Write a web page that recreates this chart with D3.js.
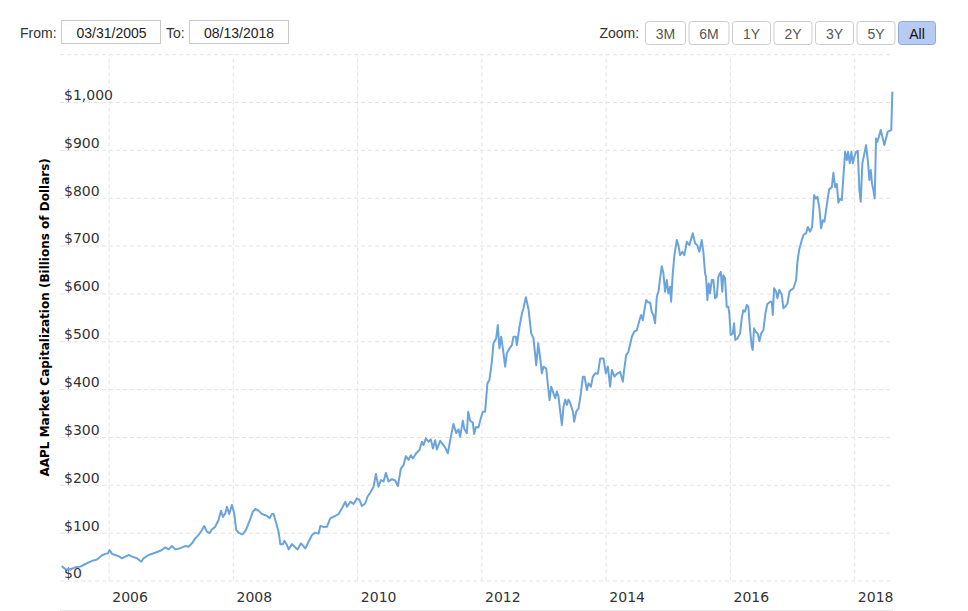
<!DOCTYPE html>
<html>
<head>
<meta charset="utf-8">
<script src="https://cdn.jsdelivr.net/npm/d3@7"></script>
<style>
  html, body { margin: 0; padding: 0; background: #fff; }
  svg { display: block; }
</style>
</head>
<body>
<svg id="chart" width="968" height="611"></svg>
<script>
// ---------------- DATA ----------------
const fromDate = "03/31/2005";
const toDate = "08/13/2018";
const zoomButtons = ["3M", "6M", "1Y", "2Y", "3Y", "5Y", "All"];
const activeZoom = "All";
const yAxisTitle = "AAPL Market Capitalization (Billions of Dollars)";
const yTickValues = [0, 100, 200, 300, 400, 500, 600, 700, 800, 900, 1000, 1100];
const xTickYears = [2006, 2008, 2010, 2012, 2014, 2016, 2018];

// time as decimal years
const yearsFrac = [
  2005.244, 2005.303, 2005.384, 2005.464, 2005.545, 2005.625, 2005.733, 2005.813, 2005.894, 2005.947, 2005.990,
  2006.016, 2006.055, 2006.108, 2006.161, 2006.216, 2006.269, 2006.322, 2006.377, 2006.457, 2006.526, 2006.563,
  2006.644, 2006.751, 2006.859, 2006.912, 2006.965,
  2007.020, 2007.073, 2007.154, 2007.234, 2007.287, 2007.342, 2007.395, 2007.448, 2007.503, 2007.540, 2007.583,
  2007.625, 2007.664, 2007.717, 2007.770, 2007.809, 2007.841, 2007.878, 2007.905, 2007.942, 2007.986,
  2008.023, 2008.055, 2008.103, 2008.156, 2008.211, 2008.264, 2008.323, 2008.360, 2008.414, 2008.468, 2008.549,
  2008.591, 2008.629, 2008.655, 2008.698, 2008.735, 2008.763, 2008.806, 2008.827, 2008.870, 2008.896, 2008.951,
  2009.004, 2009.041, 2009.096, 2009.165, 2009.218, 2009.273, 2009.326, 2009.379, 2009.406, 2009.459, 2009.514,
  2009.567, 2009.648, 2009.701, 2009.755, 2009.809, 2009.836, 2009.889, 2009.942, 2009.997,
  2010.039, 2010.077, 2010.130, 2010.167, 2010.211, 2010.264, 2010.302, 2010.344, 2010.383, 2010.425, 2010.463,
  2010.505, 2010.560, 2010.613, 2010.656, 2010.705, 2010.747, 2010.785, 2010.827, 2010.866, 2010.898, 2010.951,
  2011.004, 2011.043, 2011.068, 2011.107, 2011.149, 2011.187, 2011.220, 2011.257, 2011.284, 2011.337, 2011.390,
  2011.418, 2011.461, 2011.509, 2011.551, 2011.595, 2011.632, 2011.659, 2011.702, 2011.728, 2011.767, 2011.788,
  2011.820, 2011.863, 2011.884, 2011.912, 2011.953, 2011.992,
  2012.024, 2012.061, 2012.098, 2012.130, 2012.169, 2012.195, 2012.238, 2012.265, 2012.291, 2012.319, 2012.356,
  2012.383, 2012.410, 2012.452, 2012.491, 2012.516, 2012.555, 2012.571, 2012.613, 2012.652, 2012.677, 2012.716,
  2012.758, 2012.801, 2012.838, 2012.882, 2012.914, 2012.946, 2012.973, 2012.999,
  2013.043, 2013.070, 2013.096, 2013.123, 2013.160, 2013.187, 2013.215, 2013.241, 2013.268, 2013.295, 2013.321,
  2013.348, 2013.376, 2013.401, 2013.429, 2013.472, 2013.493, 2013.525, 2013.562, 2013.601, 2013.633, 2013.659,
  2013.698, 2013.723, 2013.762, 2013.794, 2013.831, 2013.874, 2013.912, 2013.965,
  2014.003, 2014.035, 2014.072, 2014.100, 2014.142, 2014.180, 2014.233, 2014.277, 2014.298, 2014.330, 2014.367,
  2014.422, 2014.459, 2014.502, 2014.544, 2014.571, 2014.599, 2014.624, 2014.652, 2014.689, 2014.716, 2014.743,
  2014.769, 2014.796, 2014.824, 2014.850, 2014.877, 2014.904, 2014.930, 2014.957, 2014.985,
  2015.010, 2015.038, 2015.054, 2015.081, 2015.107, 2015.146, 2015.171, 2015.199, 2015.236, 2015.268, 2015.307,
  2015.348, 2015.403, 2015.440, 2015.477, 2015.509, 2015.548, 2015.574, 2015.601, 2015.617, 2015.638, 2015.660,
  2015.681, 2015.709, 2015.735, 2015.762, 2015.789, 2015.815, 2015.854, 2015.879, 2015.895, 2015.923, 2015.950,
  2015.976, 2015.992,
  2016.014, 2016.047, 2016.068, 2016.088, 2016.121, 2016.164, 2016.191, 2016.217, 2016.245, 2016.272, 2016.298,
  2016.325, 2016.352, 2016.368, 2016.389, 2016.417, 2016.449, 2016.475, 2016.502, 2016.539, 2016.571, 2016.603,
  2016.647, 2016.674, 2016.690, 2016.711, 2016.743, 2016.764, 2016.796, 2016.835, 2016.861, 2016.888, 2016.925,
  2016.957, 2016.985,
  2017.022, 2017.065, 2017.086, 2017.113, 2017.157, 2017.183, 2017.226, 2017.253, 2017.290, 2017.323, 2017.355,
  2017.382, 2017.408, 2017.440, 2017.467, 2017.495, 2017.521, 2017.559, 2017.596, 2017.640, 2017.665, 2017.693,
  2017.720, 2017.746, 2017.773, 2017.801, 2017.826, 2017.854, 2017.881, 2017.902, 2017.929, 2017.955, 2017.978,
  2018.003, 2018.031, 2018.058, 2018.084, 2018.106, 2018.132, 2018.159, 2018.191, 2018.219, 2018.245, 2018.267,
  2018.288, 2018.309, 2018.331, 2018.352, 2018.373, 2018.401, 2018.428, 2018.460, 2018.486, 2018.513, 2018.541,
  2018.598, 2018.614
];

// market cap, billions of dollars
const marketCap = [
  30, 24, 23.5, 27.5, 29, 34.5, 41, 44, 52.7, 55.7, 57,
  63.7, 55.7, 53.3, 51, 46.4, 50, 53.3, 50, 46.4, 39.3, 46.4,
  53.3, 58, 63.7, 69.3, 65,
  72, 65, 67.5, 72, 70.5, 77.7, 88, 95, 105.5, 114, 102,
  99, 106.5, 112.5, 126.4, 146, 133, 140, 154, 139, 158,
  140, 105.5, 99, 96.5, 105.5, 123, 144, 149.4, 146, 139, 135,
  130, 139, 139, 119.5, 102, 76, 76, 83, 74, 65, 76,
  69, 65, 77.7, 67, 81, 95, 100, 98, 114, 112, 112.5,
  130, 135, 139, 151, 164.7, 154, 164.7, 160, 171.8,
  168, 155.7, 161, 175, 183.5, 196, 222.6, 196, 210, 207, 225,
  207, 212, 209, 197.5, 234.5, 241, 260, 252, 262, 255, 266,
  272.7, 290, 283, 297, 290, 295, 276, 293, 274, 292, 283,
  278, 266, 300.5, 327, 308, 316, 300.5, 334, 316, 308, 352.8,
  334, 330, 306, 321, 320, 339,
  352.8, 352.8, 412, 419, 457, 495.7, 506, 534, 485, 509.5, 475,
  447, 475, 485, 492, 509.5, 509.5, 492, 530, 558, 569, 592,
  567, 516.6, 506, 450, 495.7, 464, 433, 447,
  443, 408.6, 377, 405, 391, 381, 395, 384, 352.8, 325, 363,
  378, 367, 378, 371, 352.8, 332, 352.8, 359, 391, 426, 426,
  398, 412, 405, 426, 433, 432, 464, 464,
  433, 447, 405, 440, 426, 432, 436, 415.5, 440, 471, 478,
  509.5, 520, 523, 544, 555, 544, 565, 586, 581, 581, 561,
  555, 537.5, 593, 603.5, 631.5, 657, 642, 603.5, 628,
  600, 614, 582.6, 642, 680, 711.6, 701, 680, 687, 680, 708,
  701, 725.6, 704.7, 700, 687, 711.6, 686, 642, 635, 586, 621,
  600, 628, 628, 590, 593, 635, 645, 603.6, 638, 631.5, 572,
  572, 558,
  513, 516, 537.5, 502.6, 506, 516, 548, 565, 562, 575.8, 572,
  523.5, 488.6, 482, 527, 520, 516, 500, 516, 523.5, 558, 578,
  582.6, 582.6, 555, 610.7, 604, 590, 607.5, 597, 569, 572, 579,
  604, 607.5,
  610.7, 628, 666, 690.7, 711.6, 722, 726, 739, 729, 739, 805.6,
  798, 802, 778, 736, 753, 750, 784.7, 817.5, 822, 852, 822,
  829, 789.6, 798, 795, 844, 896, 878.8, 896, 872, 896, 872,
  885.7, 896, 898, 816, 791.6, 872, 889, 910, 878.8, 837, 858,
  829, 816, 798.8, 924, 917, 929, 941.5, 924, 910, 924, 938,
  941.5, 1021.5
];

// ---------------- HELPERS ----------------
function decimalYearToDate(t) {
  const y = Math.floor(t);
  const start = Date.UTC(y, 0, 1), end = Date.UTC(y + 1, 0, 1);
  return new Date(start + (t - y) * (end - start));
}
const series = yearsFrac.map((t, i) => ({ date: decimalYearToDate(t), value: marketCap[i] }));

// ---------------- LAYOUT ----------------
const svg = d3.select("#chart");
const plotLeft = 60, plotRight = 893;
const yTop = 54.2, yBottom = 580.5;
const gridColor = "#e3e3e3";
const lineColor = "#6ba4dc";
const axisFont = "'DejaVu Sans', Verdana, sans-serif";
const uiFont = "'Liberation Sans', Arial, sans-serif";

const x = d3.scaleUtc()
  .domain(d3.extent(series, d => d.date))
  .range([61.7, 892.3]);
const y = d3.scaleLinear()
  .domain([0, d3.max(yTickValues)])
  .range([yBottom, yTop]);

// ---------------- HEADER ----------------
const header = svg.append("g").attr("font-family", uiFont).attr("font-size", 14).attr("fill", "#333");
header.append("text").attr("x", 20).attr("y", 38).text("From:");
header.append("rect").attr("x", 61.5).attr("y", 20.5).attr("width", 99).attr("height", 23)
  .attr("fill", "#fff").attr("stroke", "#c8c8c8");
header.append("text").attr("x", 111.5).attr("y", 38).attr("text-anchor", "middle").attr("fill", "#222").text(fromDate);
header.append("text").attr("x", 166).attr("y", 38).text("To:");
header.append("rect").attr("x", 189.5).attr("y", 20.5).attr("width", 99).attr("height", 23)
  .attr("fill", "#fff").attr("stroke", "#c8c8c8");
header.append("text").attr("x", 239).attr("y", 38).attr("text-anchor", "middle").attr("fill", "#222").text(toDate);
header.append("text").attr("x", 599.5).attr("y", 38).text("Zoom:");

const btnWidths = { "3M": 40, "6M": 40, "1Y": 38, "2Y": 38, "3Y": 38, "5Y": 38, "All": 37 };
let bx = 645.5;
zoomButtons.forEach(lbl => {
  const w = btnWidths[lbl];
  const active = lbl === activeZoom;
  header.append("rect").attr("x", bx).attr("y", 21.5).attr("width", w).attr("height", 23).attr("rx", 3)
    .attr("fill", active ? "#b7caf2" : "#fff")
    .attr("stroke", active ? "#8ca8e4" : "#cccccc");
  header.append("text").attr("x", bx + w / 2).attr("y", 38.5).attr("text-anchor", "middle")
    .attr("fill", active ? "#111" : "#555").text(lbl);
  bx += w + 3.5;
});

// ---------------- GRID / AXES ----------------
const yAxis = d3.axisLeft(y)
  .tickValues(yTickValues)
  .tickSize(-(plotRight - plotLeft))
  .tickFormat(d => d === 1100 ? "" : d3.format("$,")(d));
const gy = svg.append("g").attr("transform", `translate(${plotLeft},0)`).call(yAxis);
gy.select(".domain").remove();
gy.selectAll(".tick line").attr("stroke", gridColor).attr("stroke-dasharray", "4,3");
gy.selectAll(".tick text")
  .attr("x", 4).attr("dy", -2.6).attr("text-anchor", "start")
  .attr("font-family", axisFont).attr("font-size", 14).attr("fill", "#333");

const xTicks = xTickYears.map(yr => new Date(Date.UTC(yr, 0, 1)));
const xGrid = d3.axisBottom(x).tickValues(xTicks).tickSize(-(yBottom - yTop)).tickFormat("");
const gxg = svg.append("g").attr("transform", `translate(0,${yBottom})`).call(xGrid);
gxg.select(".domain").remove();
gxg.selectAll(".tick line").attr("stroke", gridColor).attr("stroke-dasharray", "4,3");

const xAxis = d3.axisBottom(x).tickValues(xTicks).tickSize(0).tickPadding(0).tickFormat(d3.utcFormat("%Y"));
const gx = svg.append("g").attr("transform", `translate(0,${yBottom})`).call(xAxis);
gx.select(".domain").remove();
gx.selectAll(".tick text")
  .attr("dx", 21).attr("y", 21.5).attr("dy", 0)
  .attr("font-family", axisFont).attr("font-size", 14).attr("fill", "#333");

// bottom rule
svg.append("line").attr("x1", plotLeft).attr("x2", plotRight).attr("y1", 610.5).attr("y2", 610.5)
  .attr("stroke", "#e6e6e6");

// y-axis title
svg.append("text")
  .attr("transform", `translate(48.5,${(yTop + yBottom) / 2}) rotate(-90)`)
  .attr("text-anchor", "middle")
  .attr("font-family", axisFont).attr("font-size", 12).attr("font-weight", "bold").attr("fill", "#000")
  .text(yAxisTitle);

// ---------------- LINE ----------------
const line = d3.line().x(d => x(d.date)).y(d => y(d.value));
svg.append("path").datum(series)
  .attr("d", line)
  .attr("fill", "none")
  .attr("stroke", lineColor)
  .attr("stroke-width", 2)
  .attr("stroke-linejoin", "round");
</script>
</body>
</html>
